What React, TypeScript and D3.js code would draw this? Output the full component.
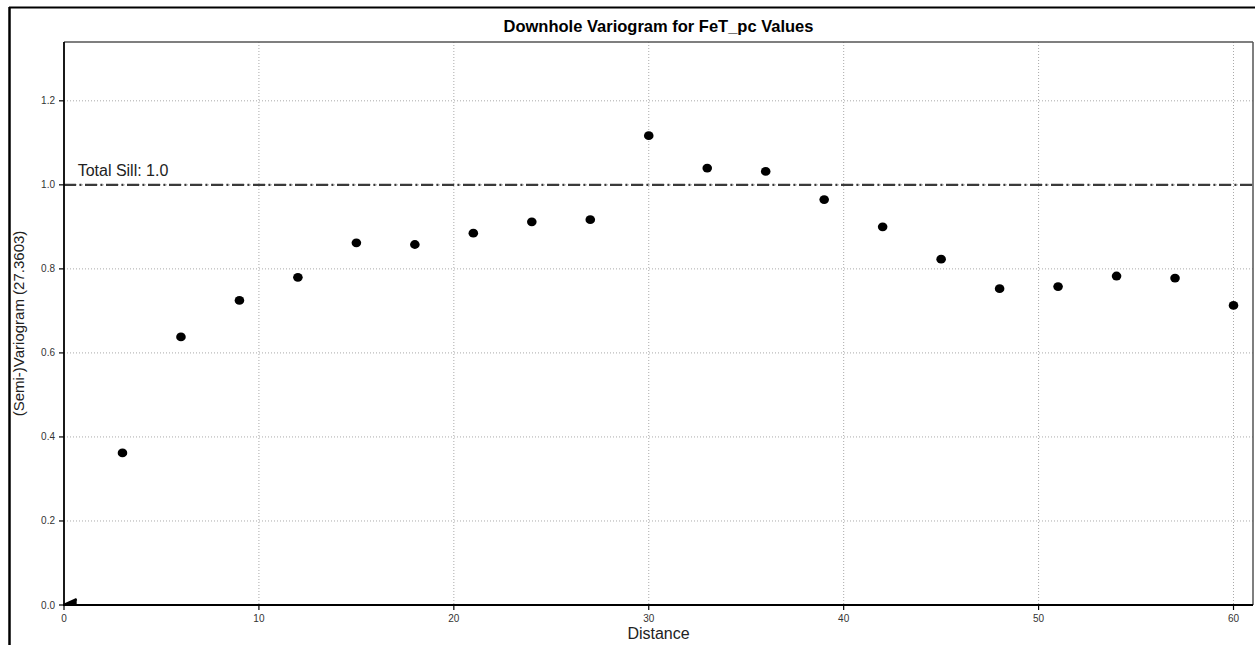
import React from "react";
import * as d3 from "d3";

const lagDistances = [3, 6, 9, 12, 15, 18, 21, 24, 27, 30, 33, 36, 39, 42, 45, 48, 51, 54, 57, 60];
const semivariance = [0.362, 0.638, 0.725, 0.78, 0.862, 0.858, 0.885, 0.912, 0.917, 1.117, 1.04, 1.032, 0.965, 0.9, 0.823, 0.753, 0.758, 0.783, 0.778, 0.713];
const modelX = [0, 0.65];
const modelY = [0, 0.014];
const xTicks = [0, 10, 20, 30, 40, 50, 60];
const yTicks = [0, 0.2, 0.4, 0.6, 0.8, 1.0, 1.2];
const totalSill = 1.0;
const title = "Downhole Variogram for FeT_pc Values";
const xLabel = "Distance";
const yLabel = "(Semi-)Variogram (27.3603)";

const W = 1255;
const H = 645;
const L = 64, R = 1253, T = 42, B = 605;

export default function App() {
  const x = d3.scaleLinear().domain([0, 61]).range([L, R]);
  const y = d3.scaleLinear().domain([0, 1.34]).range([B, T]);
  const font = "Arial, 'Liberation Sans', sans-serif";
  const modelLine = d3.line<number>().x((d, i) => x(modelX[i])).y((d, i) => y(modelY[i]))(modelX);
  const wedge = `M${x(0)},${y(0)}L${x(modelX[1])},${y(modelY[1])}L${x(modelX[1])},${y(0)}Z`;
  const cx = (L + R) / 2;
  const cy = (T + B) / 2;

  return (
    <svg width={W} height={H} style={{ position: "absolute", left: 0, top: 0, background: "#fff" }} fontFamily={font}>
      <rect x={0} y={0} width={W} height={H} fill="#fff" />
      {/* outer frame */}
      <line x1={9} x2={W} y1={7.5} y2={7.5} stroke="#000" strokeWidth={2} />
      <line x1={9.5} x2={9.5} y1={7} y2={H} stroke="#000" strokeWidth={2.5} />

      {/* grid */}
      {xTicks.filter(t => t > 0).map(t => (
        <line key={"gx" + t} x1={x(t)} x2={x(t)} y1={T} y2={B} stroke="#aaa" strokeWidth={1} strokeDasharray="1,2" />
      ))}
      {yTicks.filter(t => t > 0).map(t => (
        <line key={"gy" + t} x1={L} x2={R} y1={y(t)} y2={y(t)} stroke="#aaa" strokeWidth={1} strokeDasharray="1,2" />
      ))}

      {/* sill */}
      <line x1={L} x2={R} y1={y(totalSill)} y2={y(totalSill)} stroke="#3a3a3a" strokeWidth={2.2} strokeDasharray="12,3.5,2,3.5" />
      <text x={x(0.7)} y={y(totalSill) - 9} fontSize={16} fill="#222">Total Sill: {totalSill.toFixed(1)}</text>

      {/* model */}
      <path d={wedge} fill="#000" />
      <path d={modelLine || ""} stroke="#000" strokeWidth={2.5} fill="none" />

      {/* points */}
      {lagDistances.map((d, i) => (
        <ellipse key={"p" + i} cx={x(d)} cy={y(semivariance[i])} rx={4.8} ry={4.4} fill="#000" />
      ))}

      {/* spines */}
      <line x1={L} x2={R} y1={T} y2={T} stroke="#555" strokeWidth={1.5} />
      <line x1={R} x2={R} y1={T} y2={B} stroke="#555" strokeWidth={1.5} />
      <line x1={L} x2={L} y1={T} y2={B + 1} stroke="#000" strokeWidth={1.8} />
      <line x1={L - 1} x2={R} y1={B} y2={B} stroke="#000" strokeWidth={1.8} />

      {/* ticks */}
      {xTicks.map(t => (
        <g key={"xt" + t}>
          <line x1={x(t)} x2={x(t)} y1={B} y2={B + 5} stroke="#000" strokeWidth={1.2} />
          <text x={x(t)} y={B + 17} fontSize={10} fill="#333" textAnchor="middle">{t}</text>
        </g>
      ))}
      {yTicks.map(t => (
        <g key={"yt" + t}>
          <line x1={L - 5} x2={L} y1={y(t)} y2={y(t)} stroke="#000" strokeWidth={1.2} />
          <text x={L - 9} y={y(t) + 3.5} fontSize={10} fill="#333" textAnchor="end">{t.toFixed(1)}</text>
        </g>
      ))}

      {/* labels */}
      <text x={cx} y={32} fontSize={16.5} fontWeight="bold" textAnchor="middle" fill="#000">{title}</text>
      <text x={cx} y={639} fontSize={16} textAnchor="middle" fill="#222">{xLabel}</text>
      <text transform={`translate(24,${cy}) rotate(-90)`} fontSize={15} textAnchor="middle" fill="#222">{yLabel}</text>
    </svg>
  );
}
